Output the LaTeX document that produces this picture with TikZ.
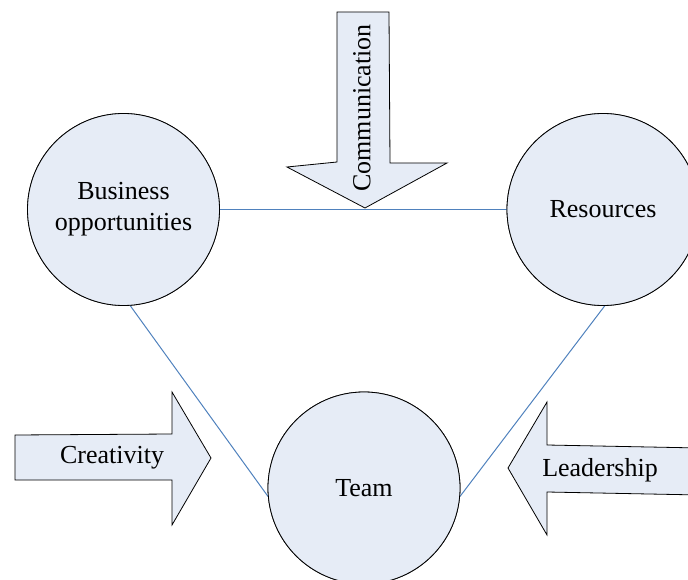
\documentclass[tikz,border=0pt]{standalone}
\usepackage{fontspec}
\setmainfont{Liberation Serif}
\definecolor{fillblue}{RGB}{230,236,246}
\definecolor{linkblue}{RGB}{79,129,189}
\begin{document}
\begin{tikzpicture}[x=1pt,y=-1pt,
  bubble/.style={circle,draw=black,line width=0.8pt,fill=fillblue,minimum size=192pt,inner sep=0pt,align=center,font=\fontsize{26}{31}\selectfont},
  link/.style={draw=linkblue,line width=1pt},
  bigarrow/.style={draw=black,line width=0.8pt,fill=fillblue,line join=miter},
  lbl/.style={font=\fontsize{26}{31}\selectfont,inner sep=0pt}]
\useasboundingbox (0,0) rectangle (688,580);
\clip (0,0) rectangle (688,580);
\coordinate (bc) at (123.5,209.5);
\coordinate (rc) at (603,209.5);
\coordinate (tc) at (364,488);
\node[bubble] (B) at (bc) {Business\\opportunities};
\node[bubble] (R) at (rc) {Resources};
\node[bubble] (T) at (tc) {Team};
\draw[link] (B.east) -- (R.west);
\draw[link] (B.-86) -- (T.185);
\draw[link] (R.-89) -- (T.-5);
% Communication arrow
\draw[bigarrow] (337,12) -- (389,12) -- (390,163) -- (447,163) -- (365,208) -- (287,167) -- (337,162) -- cycle;
\node[lbl,rotate=90] (comm) at (362,108) {Communication};
% Creativity arrow
\draw[bigarrow] (15,435) -- (172,434) -- (172,392) -- (211,458) -- (172,525) -- (172,480) -- (15,480) -- cycle;
\node[lbl] (crea) at (112,458) {Creativity};
% Leadership arrow
\draw[bigarrow] (700,448) -- (547,445) -- (547,402) -- (508,468) -- (547,535) -- (547,492) -- (700,495) -- cycle;
\node[lbl] (lead) at (600,470) {Leadership};
% redraw circles on top of links
\node[bubble] at (bc) {Business\\opportunities};
\node[bubble] at (rc) {Resources};
\node[bubble] at (tc) {Team};
\end{tikzpicture}
\end{document}
